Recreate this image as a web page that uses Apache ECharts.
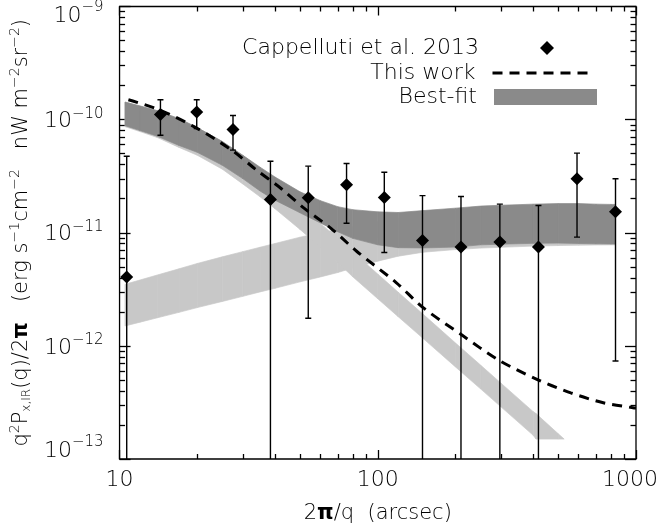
<!DOCTYPE html>
<html><head><meta charset="utf-8">
<script src="https://cdn.jsdelivr.net/npm/echarts@6/dist/echarts.min.js"></script>
<style>html,body{margin:0;padding:0;background:#fff}#c{width:665px;height:529px}</style>
</head><body><div id="c"></div>
<script>
// ---------- data ----------
const pointX  = [10.66, 14.4, 19.9, 27.5, 38.4, 53.8, 75.7, 106, 149, 210, 297, 419, 591, 833];
const pointY  = [4.07e-12, 1.11e-10, 1.165e-10, 8.16e-11, 1.97e-11, 2.04e-11, 2.66e-11, 2.05e-11, 8.56e-12, 7.48e-12, 8.27e-12, 7.48e-12, 3.00e-11, 1.535e-11];
const errHigh = [4.74e-11, 1.50e-10, 1.50e-10, 1.088e-10, 4.29e-11, 3.88e-11, 4.09e-11, 3.43e-11, 2.13e-11, 2.09e-11, 1.79e-11, 1.74e-11, 5.06e-11, 3.00e-11];
// null = error bar runs below the bottom of the plot
const errLow  = [null, 7.27e-11, 8.32e-11, 5.38e-11, null, 1.757e-12, 1.213e-11, 6.69e-12, null, null, null, null, 9.15e-12, 7.35e-13];

const modelX = [10.82, 14.26, 19.74, 27.27, 33.47, 42.34, 51.96, 65.72, 82.83, 117.8, 149.4, 212.4, 293.4, 417.1, 559, 747.2, 973, 1000];
const modelY = [1.50e-10, 1.22e-10, 8.49e-11, 5.35e-11, 3.67e-11, 2.45e-11, 1.64e-11, 1.10e-11, 6.86e-12, 3.63e-12, 2.19e-12, 1.24e-12, 7.50e-13, 5.01e-13, 3.84e-13, 3.14e-13, 2.84e-13, 2.82e-13];

const bandX    = [10.5, 12, 14, 17, 20, 25, 30, 35, 40, 50, 60, 70, 80, 100, 120, 150, 200, 250, 300, 400, 500, 600, 700, 800, 833];
const bestLow  = [8.85e-11, 8.00e-11, 7.13e-11, 5.91e-11, 5.14e-11, 3.95e-11, 3.01e-11, 2.34e-11, 1.94e-11, 1.50e-11, 1.22e-11, 1.02e-11, 8.92e-12, 7.82e-12, 7.38e-12, 7.34e-12, 7.47e-12, 7.82e-12, 7.93e-12, 8.06e-12, 8.10e-12, 8.04e-12, 7.99e-12, 7.95e-12, 7.95e-12];
const bestHigh = [1.43e-10, 1.32e-10, 1.20e-10, 1.02e-10, 8.50e-11, 6.41e-11, 4.84e-11, 3.80e-11, 3.11e-11, 2.30e-11, 1.92e-11, 1.70e-11, 1.60e-11, 1.53e-11, 1.51e-11, 1.57e-11, 1.65e-11, 1.72e-11, 1.75e-11, 1.79e-11, 1.81e-11, 1.81e-11, 1.79e-11, 1.78e-11, 1.78e-11];
const riseLow  = [1.50e-12, 1.62e-12, 1.77e-12, 1.98e-12, 2.18e-12, 2.47e-12, 2.74e-12, 3.00e-12, 3.23e-12, 3.68e-12, 4.07e-12, 4.45e-12, 4.88e-12, 5.61e-12, 6.21e-12, 6.73e-12, 7.10e-12, 7.32e-12, 7.44e-12, 7.62e-12, 7.71e-12, 7.77e-12, 7.80e-12, 7.82e-12, 7.82e-12];
const riseHigh = [3.50e-12, 3.82e-12, 4.23e-12, 4.80e-12, 5.35e-12, 6.12e-12, 6.81e-12, 7.44e-12, 8.03e-12, 9.14e-12, 9.98e-12, 1.07e-11, 1.14e-11, 1.25e-11, 1.34e-11, 1.45e-11, 1.53e-11, 1.60e-11, 1.66e-11, 1.68e-11, 1.70e-11, 1.71e-11, 1.72e-11, 1.73e-11, 1.73e-11];

const fallX    = [10.5, 12, 14, 17, 20, 25, 30, 35, 40, 50, 60, 70, 80, 100, 120, 150, 200, 250, 300, 400, 410, 500, 527];
const fallHigh = [1.43e-10, 1.32e-10, 1.20e-10, 1.02e-10, 8.50e-11, 6.41e-11, 4.84e-11, 3.72e-11, 2.81e-11, 1.75e-11, 1.21e-11, 8.87e-12, 6.77e-12, 4.31e-12, 2.98e-12, 1.90e-12, 1.06e-12, 6.77e-13, 4.68e-13, 2.62e-13, 2.52e-13, 1.67e-13, 1.50e-13];
const fallLow  = [8.67e-11, 7.84e-11, 6.95e-11, 5.68e-11, 4.84e-11, 3.65e-11, 2.70e-11, 2.08e-11, 1.63e-11, 1.07e-11, 7.44e-12, 5.45e-12, 4.08e-12, 2.61e-12, 1.81e-12, 1.16e-12, 6.51e-13, 4.17e-13, 2.89e-13, 1.62e-13, 1.50e-13, 1.50e-13, 1.50e-13];

const xTicks = [10, 100, 1000];
const xTickLabels = ['10', '100', '1000'];
const yTicks = [1e-13, 1e-12, 1e-11, 1e-10, 1e-9];
const yTickExp = ['\u221213', '\u221212', '\u221211', '\u221210', '\u22129'];
const X_RANGE = [10, 1000];
const Y_RANGE = [1e-13, 1e-9];

const xMinor = [];
for (let e = 1; e < 3; e++) for (let k = 2; k < 10; k++) xMinor.push(k * Math.pow(10, e));
const yMinor = [];
for (let e = -13; e < -9; e++) for (let k = 2; k < 10; k++) yMinor.push(k * Math.pow(10, e));

// ---------- styling ----------
const FONT = 'DejaVu Sans';
const FW = 200;
const INK = '#000';
const DARK = '#8a8a8a';
const LIGHT = '#c8c8c8';
const tickStyle = { color: INK, width: 1.3 };

function bandSeries(name, xs, lo, hi, color, z) {
  return {
    type: 'custom', name: name, z: z, silent: true, clip: true,
    xAxisIndex: 0, yAxisIndex: 0,
    itemStyle: { color: color },
    data: xs.map((x, i) => [x, lo[i], hi[i]]),
    encode: { x: 0, y: [1, 2] },
    renderItem: function (params, api) {
      const i = params.dataIndex;
      if (i >= xs.length - 1) return null;
      const pts = [
        api.coord([xs[i], lo[i]]), api.coord([xs[i + 1], lo[i + 1]]),
        api.coord([xs[i + 1], hi[i + 1]]), api.coord([xs[i], hi[i]])
      ];
      return { type: 'polygon', shape: { points: pts },
        style: { fill: color, stroke: color, lineWidth: 0.7 } };
    }
  };
}

function ts(size, extra) {
  return Object.assign({ fontSize: size, fontFamily: FONT, fontWeight: FW, color: INK }, extra || {});
}
const yRich = {
  b:  ts(22, { padding: [4, 0, 0, 0] }),
  s:  ts(15, { padding: [0, 0, 12, 0] }),
  bT: ts(22, { padding: [20, 0, 0, 0] }),
  sT: ts(15, { padding: [2, 0, 0, 0] }),
  bB: ts(22, { padding: [0, 0, 16, 0] }),
  sB: ts(15, { padding: [0, 0, 34, 0] })
};
function yLabel(v) {
  const e = Math.round(Math.log10(v));
  const s = yTickExp[e + 13];
  if (e === -9) return '{bT|10}{sT|' + s + '}';
  if (e === -13) return '{bB|10}{sB|' + s + '}';
  return '{b|10}{s|' + s + '}';
}
function xLabel(v) {
  const i = xTicks.findIndex(t => Math.abs(Math.log10(t) - Math.log10(v)) < 1e-6);
  const t = i >= 0 ? xTickLabels[i] : '';
  return i === xTicks.length - 1 ? '{m|' + t + '}' : '{n|' + t + '}';
}

const nameRich = {
  n:  ts(21),
  pi: ts(21, { fontWeight: 'bold' }),
  su: ts(14, { padding: [0, 0, 14, 0] }),
  sb: ts(12, { padding: [10, 0, 0, 0] })
};

function xAx(pos, major) {
  return {
    type: 'log', logBase: 10, min: X_RANGE[0], max: X_RANGE[1], position: pos,
    axisLine: { show: false }, splitLine: { show: false }, minorTick: { show: false },
    axisTick: { show: true, inside: true, length: major ? 9 : 5, lineStyle: tickStyle,
      customValues: major ? xTicks : xMinor },
    axisLabel: { show: false }
  };
}
function yAx(pos, major) {
  return {
    type: 'log', logBase: 10, min: Y_RANGE[0], max: Y_RANGE[1], position: pos,
    axisLine: { show: false }, splitLine: { show: false }, minorTick: { show: false },
    axisTick: { show: true, inside: true, length: major ? 11 : 5.5, lineStyle: tickStyle,
      customValues: major ? yTicks : yMinor },
    axisLabel: { show: false }
  };
}

const xMain = xAx('bottom', true);
xMain.axisLabel = {
  show: true, customValues: xTicks, margin: 10, formatter: xLabel,
  rich: { n: ts(22), m: ts(22, { padding: [0, 12, 0, 0] }) }
};
xMain.name = '{n|2}{pi|\u03c0}{n|/q  (arcsec)}';
xMain.nameLocation = 'middle';
xMain.nameGap = 44;
xMain.nameTextStyle = { rich: nameRich };

const yMain = yAx('left', true);
yMain.axisLabel = { show: true, customValues: yTicks, margin: 16, formatter: yLabel, rich: yRich };
yMain.name = '{n|q}{su|2}{n|P}{sb|x,IR}{n|(q)/2}{pi|\u03c0}{n|   (erg s}{su|\u22121}{n|cm}{su|\u22122}{n|   nW m}{su|\u22122}{n|sr}{su|\u22122}{n|)}';
yMain.nameLocation = 'middle';
yMain.nameRotate = 90;
yMain.nameGap = 76;
yMain.nameTextStyle = { rich: nameRich };

const legendText = ts(22);

const option = {
  animation: false,
  backgroundColor: '#fff',
  grid: { left: 112.7, right: 29, top: 2.5, bottom: 69, show: true,
    borderColor: INK, borderWidth: 1.3, backgroundColor: 'transparent' },
  xAxis: [xMain, xAx('top', true), xAx('bottom', false), xAx('top', false)],
  yAxis: [yMain, yAx('right', true), yAx('left', false), yAx('right', false)],
  legend: [
    { data: ['Cappelluti et al. 2013'], right: 111, top: 37, padding: 0, align: 'right',
      icon: 'diamond', itemWidth: 14, itemHeight: 14, selectedMode: false,
      itemStyle: { opacity: 1 },
      textStyle: Object.assign({ padding: [0, 56, 0, 0] }, legendText) },
    { data: ['This work'], right: 75, top: 62, padding: 0, align: 'right',
      itemWidth: 96, itemHeight: 14, selectedMode: false,
      itemStyle: { opacity: 0 },
      lineStyle: { opacity: 1, width: 3, type: [10, 7], color: INK },
      textStyle: Object.assign({ padding: [0, 12, 0, 0] }, legendText) },
    { data: ['Best-fit'], right: 68, top: 86, padding: 0, align: 'right',
      icon: 'rect', itemWidth: 103, itemHeight: 16, selectedMode: false,
      textStyle: Object.assign({ padding: [0, 12, 0, 0] }, legendText) }
  ],
  series: [
    bandSeries('rising component', bandX, riseLow, riseHigh, LIGHT, 1),
    bandSeries('falling component', fallX, fallLow, fallHigh, LIGHT, 1),
    bandSeries('Best-fit', bandX, bestLow, bestHigh, DARK, 2),
    {
      type: 'line', name: 'This work', z: 3, xAxisIndex: 0, yAxisIndex: 0,
      data: modelX.map((x, i) => [x, modelY[i]]),
      symbol: 'none', showSymbol: false, smooth: 0.3, clip: true, silent: true,
      itemStyle: { color: INK },
      lineStyle: { color: INK, width: 3, type: [10, 7] }
    },
    {
      type: 'custom', name: 'errors', z: 4, clip: true, silent: true,
      xAxisIndex: 0, yAxisIndex: 0,
      data: pointX.map((x, i) => [x, pointY[i], errLow[i] === null ? Y_RANGE[0] / 10 : errLow[i], errHigh[i]]),
      encode: { x: 0, y: 1 },
      renderItem: function (params, api) {
        const i = params.dataIndex;
        const x = api.value(0);
        const top = api.coord([x, api.value(3)]);
        const bot = api.coord([x, api.value(2)]);
        const st = { stroke: INK, lineWidth: 1.4 };
        const ch = [
          { type: 'line', shape: { x1: top[0], y1: top[1], x2: bot[0], y2: bot[1] }, style: st },
          { type: 'line', shape: { x1: top[0] - 3, y1: top[1], x2: top[0] + 3, y2: top[1] }, style: st }
        ];
        if (errLow[i] !== null) ch.push({ type: 'line', shape: { x1: bot[0] - 3, y1: bot[1], x2: bot[0] + 3, y2: bot[1] }, style: st });
        return { type: 'group', children: ch };
      }
    },
    {
      type: 'scatter', name: 'Cappelluti et al. 2013', z: 5, xAxisIndex: 0, yAxisIndex: 0,
      data: pointX.map((x, i) => [x, pointY[i]]),
      symbol: 'diamond', symbolSize: 13, silent: true,
      itemStyle: { color: INK, opacity: 1 }
    }
  ]
};

const chart = echarts.init(document.getElementById('c'), null, { renderer: 'canvas' });
chart.setOption(option);
</script>
</body></html>
